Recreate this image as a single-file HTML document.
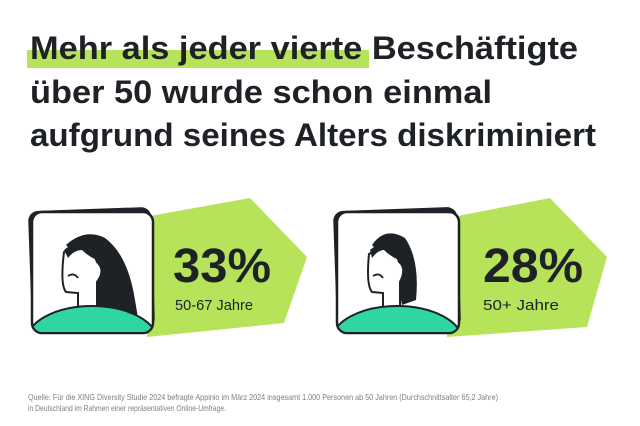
<!DOCTYPE html>
<html><head><meta charset="utf-8"><style>
html,body{margin:0;padding:0;background:#fff;}
svg{display:block;}
</style></head><body>
<svg width="640" height="426" viewBox="0 0 640 426" xmlns="http://www.w3.org/2000/svg">
<rect width="640" height="426" fill="#ffffff"/>
<rect x="27" y="50" width="342" height="18" fill="#b6e35a"/>
<g font-family="Liberation Sans, sans-serif" font-weight="bold" font-size="32" fill="#1e2226">
<text x="30" y="59" textLength="548" lengthAdjust="spacingAndGlyphs">Mehr als jeder vierte Beschäftigte</text>
<text x="30" y="103" textLength="462" lengthAdjust="spacingAndGlyphs">über 50 wurde schon einmal</text>
<text x="30" y="146" textLength="566" lengthAdjust="spacingAndGlyphs">aufgrund seines Alters diskriminiert</text>
</g>

<!-- left card -->
<polygon points="150,216 250,198 307,257 284,323 147,337" fill="#b6e35a"/>
<rect x="30" y="209" width="123" height="121" rx="10" fill="#1e2226" transform="rotate(-2 91 269)"/>
<rect x="32" y="212" width="121" height="121" rx="10" fill="#fff" stroke="#1e2226" stroke-width="2.5"/>
<clipPath id="c1"><rect x="33" y="213" width="119" height="119" rx="9"/></clipPath>
<g clip-path="url(#c1)">
<path d="M66,245 Q85,228 105,238 Q128,255 135,300 L140,330 L95,325 Q92,290 95,275 Z" fill="#1e2226"/>
<path d="M64,252 Q60,285 66,292 L78,293 L78,308 L97,308 L97,282 Q106,270 97,262 L92,250 Q80,244 64,252 Z" fill="#fff" stroke="#1e2226" stroke-width="2"/>
<path d="M64,250 Q80,236 102,244 L102,262 Q90,258 82,250 Q74,250 68,258 Z" fill="#1e2226"/>
<path d="M68,276 Q74,272 78,278" fill="none" stroke="#1e2226" stroke-width="1.8"/>
<ellipse cx="92" cy="342" rx="66" ry="36" fill="#2fd6a2" stroke="#1e2226" stroke-width="2"/>
</g>
<g font-family="Liberation Sans, sans-serif" fill="#1e2226">
<text x="173" y="282" font-size="48" font-weight="bold" textLength="98" lengthAdjust="spacingAndGlyphs">33%</text>
<text x="175" y="310" font-size="15" textLength="78" lengthAdjust="spacingAndGlyphs">50-67 Jahre</text>
</g>

<!-- right card -->
<polygon points="458,216 550,198 607,257 587,327 447,337" fill="#b6e35a"/>
<rect x="335" y="209" width="124" height="121" rx="10" fill="#1e2226" transform="rotate(-2 396 269)"/>
<rect x="337" y="212" width="122" height="121" rx="10" fill="#fff" stroke="#1e2226" stroke-width="2.5"/>
<clipPath id="c2"><rect x="338" y="213" width="120" height="119" rx="9"/></clipPath>
<g clip-path="url(#c2)">
<path d="M372,245 Q385,226 405,238 Q420,260 416,300 L402,305 L395,270 Z" fill="#1e2226"/>
<path d="M369,254 Q366,285 372,292 L383,293 L383,308 L400,308 L400,282 Q407,268 399,262 L395,250 Q384,245 369,254 Z" fill="#fff" stroke="#1e2226" stroke-width="2"/>
<path d="M370,250 Q386,236 404,244 L404,262 Q392,258 384,250 Q378,250 372,258 Z" fill="#1e2226"/>
<path d="M373,276 Q379,272 383,278" fill="none" stroke="#1e2226" stroke-width="1.8"/>
<ellipse cx="397" cy="342" rx="66" ry="36" fill="#2fd6a2" stroke="#1e2226" stroke-width="2"/>
</g>
<g font-family="Liberation Sans, sans-serif" fill="#1e2226">
<text x="483" y="282" font-size="48" font-weight="bold" textLength="100" lengthAdjust="spacingAndGlyphs">28%</text>
<text x="483" y="310" font-size="15" textLength="76" lengthAdjust="spacingAndGlyphs">50+ Jahre</text>
</g>

<g font-family="Liberation Sans Narrow, Liberation Sans, sans-serif" font-size="8.5" fill="#7a8088">
<text x="28" y="400" textLength="470" lengthAdjust="spacingAndGlyphs">Quelle: Für die XING Diversity Studie 2024 befragte Appinio im März 2024 insgesamt 1.000 Personen ab 50 Jahren (Durchschnittsalter 65,2 Jahre)</text>
<text x="28" y="411" textLength="198" lengthAdjust="spacingAndGlyphs">in Deutschland im Rahmen einer repräsentativen Online-Umfrage.</text>
</g>
</svg>
</body></html>
